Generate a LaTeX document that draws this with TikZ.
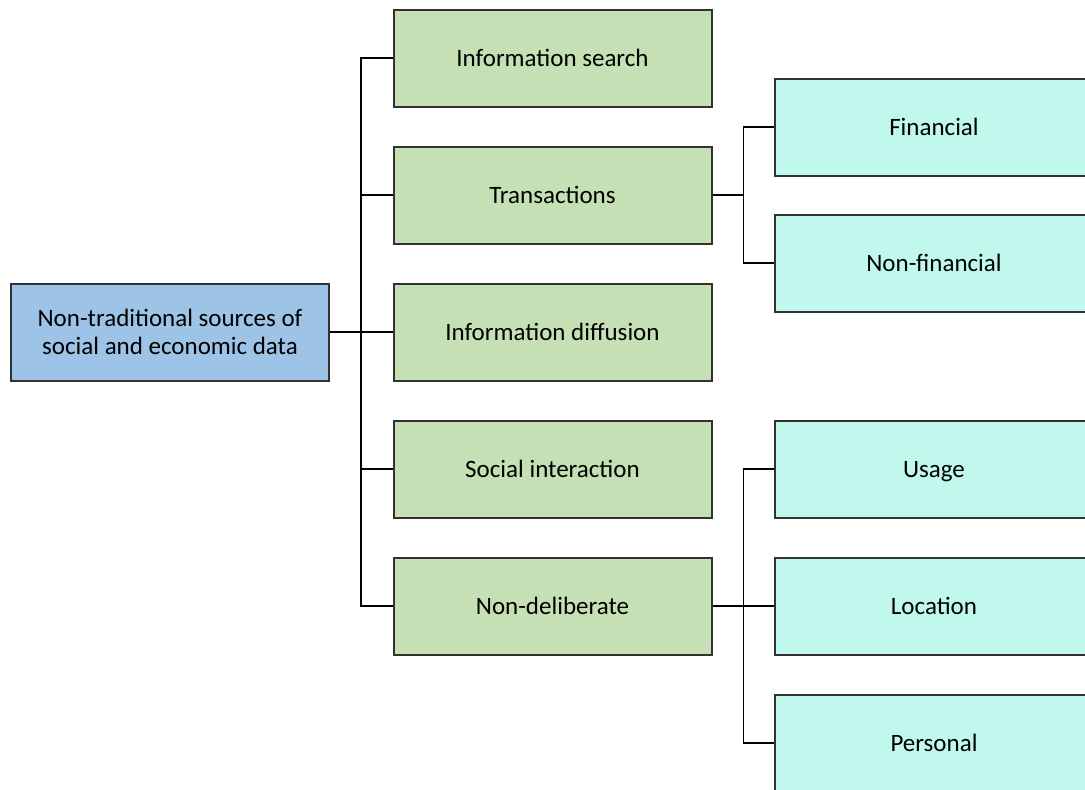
\documentclass[tikz,border=0pt]{standalone}
\usepackage{fontspec}
\setmainfont{Carlito}
\definecolor{rootfill}{RGB}{157,195,230}
\definecolor{midfill}{RGB}{197,224,180}
\definecolor{leaffill}{RGB}{192,248,238}
\definecolor{edgecol}{RGB}{50,50,50}
\begin{document}
\begin{tikzpicture}[x=1pt,y=-1pt,
  box/.style={draw=edgecol, line width=2pt, minimum width=318pt, minimum height=97pt,
    inner sep=0pt, align=center, font=\fontsize{25}{28}\selectfont},
  rootbox/.style={box, fill=rootfill},
  onelabel/.style={text height=16pt, text depth=0pt},
  midbox/.style={box, onelabel, fill=midfill},
  leafbox/.style={box, onelabel, fill=leaffill},
  link/.style={draw=black, line width=1.5pt}]
\useasboundingbox (0,0) rectangle (1085,790);
\clip (0,0) rectangle (1085,790);

% root
\node[rootbox] (root) at (170,332) {Non-traditional sources of\\social and economic data};

% second level
\node[midbox] (search) at (552.5,58)  {Information search};
\node[midbox] (trans)  at (552.5,195) {Transactions};
\node[midbox] (diff)   at (552.5,332) {Information diffusion};
\node[midbox] (social) at (552.5,469) {Social interaction};
\node[midbox] (nondel) at (552.5,606) {Non-deliberate};

% third level
\node[leafbox] (fin)    at (934,127) {Financial};
\node[leafbox] (nonfin) at (934,263) {Non-financial};
\node[leafbox] (usage)  at (934,469) {Usage};
\node[leafbox] (loc)    at (934,606) {Location};
\node[leafbox] (pers)   at (934,743) {Personal};

% trunk from the root
\coordinate (t) at (361,0);
\draw[link] (root.east) -- (diff.west);
\foreach \n in {search,trans,diff,social,nondel}
  \draw[link] (t |- root.east) -- (t |- \n.west) -- (\n.west);

% transactions split
\coordinate (u) at (743.5,0);
\draw[link] (trans.east) -- (u |- trans.east);
\foreach \n in {fin,nonfin}
  \draw[link] (u |- trans.east) -- (u |- \n.west) -- (\n.west);

% non-deliberate split
\draw[link] (nondel.east) -- (loc.west);
\foreach \n in {usage,pers}
  \draw[link] (u |- nondel.east) -- (u |- \n.west) -- (\n.west);
\end{tikzpicture}
\end{document}
